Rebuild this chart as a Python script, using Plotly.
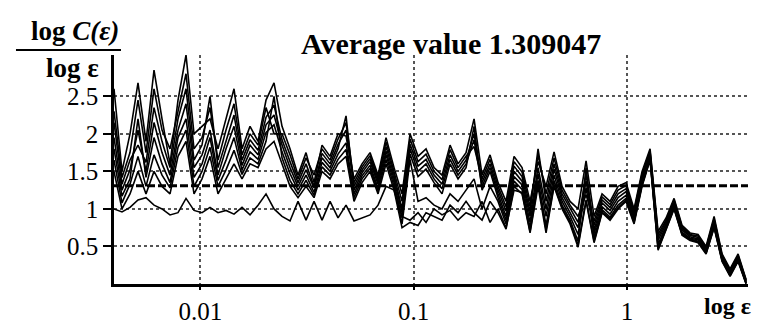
import numpy as np
import plotly.graph_objects as go

# epsilon sampling grid (geometric, as in the box-counting analysis)
EPS = np.logspace(-2.4045, 0.558, 80)

AVERAGE = 1.309047

S1 = [2.6, 1.5, 2.0, 2.68, 1.9, 2.85, 2.2, 1.6, 2.45, 3.05,
      2.0, 2.1, 2.2, 1.8, 2.2, 2.6, 1.8, 2.1, 1.9, 2.45,
      2.68, 2.1, 1.8, 1.45, 1.75, 1.35, 1.85, 1.7, 2.0, 1.97,
      1.4, 1.6, 1.75, 1.45, 1.95, 1.55, 1.2, 2.0, 1.7, 1.8,
      1.55, 1.45, 1.85, 1.6, 1.75, 2.2, 1.45, 1.72, 1.35, 1.1,
      1.7, 1.55, 1.1, 1.63, 1.3, 1.76, 1.3, 1.1, 1.0, 1.64,
      0.9, 1.2, 1.1, 1.3, 1.35, 1.0, 1.5, 1.8, 0.7, 0.88,
      1.14, 0.78, 0.68, 0.66, 0.5, 0.9, 0.4, 0.2, 0.4, 0.06]
S2 = [2.3, 1.42, 1.75, 2.45, 1.75, 2.6, 2.05, 1.8, 2.3, 2.8,
      1.8, 1.95, 2.35, 1.65, 2.05, 2.4, 1.72, 2.0, 1.85, 2.35,
      2.0, 2.0, 1.72, 1.4, 1.68, 1.45, 1.8, 1.65, 1.93, 2.15,
      1.35, 1.56, 1.71, 1.41, 1.89, 1.5, 1.1, 1.93, 1.63, 1.73,
      1.5, 1.39, 1.79, 1.55, 1.7, 1.83, 1.4, 1.66, 1.3, 1.03,
      1.63, 1.49, 1.03, 1.72, 1.2, 1.68, 1.25, 1.05, 0.9, 1.19,
      0.84, 1.16, 1.06, 1.25, 1.31, 0.97, 1.47, 1.77, 0.66, 0.85,
      1.12, 0.76, 0.66, 0.64, 0.48, 0.87, 0.38, 0.18, 0.38, 0.05]
S3 = [2.15, 1.33, 1.65, 1.85, 1.62, 2.35, 1.9, 1.55, 2.2, 2.6,
      1.65, 1.85, 2.5, 1.55, 1.9, 2.25, 1.65, 1.92, 1.78, 2.22,
      2.38, 1.92, 1.63, 1.35, 1.6, 1.3, 1.74, 1.6, 1.86, 2.05,
      1.3, 1.52, 1.67, 1.37, 1.83, 1.45, 1.0, 1.86, 1.57, 1.66,
      1.45, 1.33, 1.72, 1.5, 1.65, 2.0, 1.35, 1.6, 1.25, 0.97,
      1.57, 1.43, 0.96, 1.8, 1.1, 1.6, 1.2, 1.0, 0.82, 1.46,
      0.78, 1.12, 1.02, 1.2, 1.27, 0.93, 1.43, 1.75, 0.62, 0.83,
      1.09, 0.74, 0.65, 0.62, 0.47, 0.85, 0.37, 0.17, 0.37, 0.04]
S4 = [1.95, 1.25, 1.52, 2.05, 1.5, 2.15, 1.75, 1.45, 2.05, 2.4,
      1.55, 1.72, 2.05, 1.45, 1.8, 2.1, 1.58, 1.85, 1.72, 2.12,
      2.25, 1.85, 1.55, 1.3, 1.52, 1.28, 1.68, 1.55, 1.8, 2.24,
      1.25, 1.48, 1.63, 1.33, 1.77, 1.4, 0.95, 1.8, 1.5, 1.6,
      1.4, 1.27, 1.66, 1.45, 1.6, 1.92, 1.3, 1.55, 1.2, 0.9,
      1.5, 1.37, 0.9, 1.55, 1.0, 1.53, 1.15, 0.95, 0.75, 1.37,
      0.72, 1.08, 0.98, 1.15, 1.23, 0.9, 1.4, 1.72, 0.58, 0.8,
      1.07, 0.72, 0.63, 0.6, 0.45, 0.82, 0.35, 0.15, 0.35, 0.03]
S5 = [1.8, 1.17, 1.4, 2.2, 1.42, 1.95, 1.6, 1.35, 1.95, 2.2,
      1.42, 1.6, 1.95, 1.38, 1.65, 1.95, 1.52, 1.76, 1.66, 2.02,
      2.12, 1.76, 1.47, 1.25, 1.45, 1.22, 1.62, 1.5, 1.73, 1.88,
      1.2, 1.44, 1.58, 1.28, 1.72, 1.35, 0.88, 1.73, 1.43, 1.53,
      1.35, 1.2, 1.6, 1.4, 1.55, 2.1, 1.25, 1.5, 1.15, 0.85,
      1.43, 1.32, 0.82, 1.47, 0.9, 1.45, 1.1, 0.9, 0.66, 1.28,
      0.67, 1.03, 0.93, 1.1, 1.18, 0.87, 1.37, 1.7, 0.53, 0.77,
      1.05, 0.69, 0.61, 0.59, 0.43, 0.8, 0.33, 0.13, 0.33, 0.02]
S6 = [1.65, 1.08, 1.33, 1.7, 1.3, 1.72, 1.45, 1.28, 1.82, 2.05,
      1.3, 1.5, 1.82, 1.3, 1.52, 1.78, 1.46, 1.68, 1.6, 1.9,
      2.5, 1.68, 1.38, 1.2, 1.38, 1.18, 1.56, 1.45, 1.66, 1.79,
      1.15, 1.4, 1.54, 1.24, 1.66, 1.3, 0.8, 1.66, 1.1, 1.15,
      1.05, 1.0, 1.2, 1.1, 1.25, 1.4, 1.0, 1.3, 1.1, 0.8,
      1.37, 1.26, 0.75, 1.38, 0.78, 1.38, 1.05, 0.85, 0.57, 1.55,
      0.61, 0.99, 0.89, 1.05, 1.14, 0.83, 1.33, 1.67, 0.49, 0.75,
      1.02, 0.67, 0.6, 0.57, 0.42, 0.77, 0.32, 0.12, 0.32, 0.01]
S7 = [1.5, 1.0, 1.2, 1.5, 1.2, 1.5, 1.3, 1.2, 1.7, 1.9,
      1.2, 1.4, 1.7, 1.2, 1.4, 1.6, 1.4, 1.6, 1.55, 1.8,
      1.9, 1.6, 1.3, 1.15, 1.3, 1.15, 1.5, 1.4, 1.6, 1.7,
      1.1, 1.35, 1.5, 1.2, 1.6, 1.25, 0.75, 0.82, 0.78, 0.95,
      0.9, 0.85, 1.05, 0.95, 1.1, 0.95, 0.85, 1.1, 0.95, 0.73,
      1.3, 1.2, 0.68, 1.3, 0.68, 1.3, 1.0, 0.8, 0.49, 1.1,
      0.55, 0.95, 0.85, 1.0, 1.1, 0.8, 1.3, 1.65, 0.45, 0.72,
      1.0, 0.65, 0.58, 0.55, 0.4, 0.75, 0.3, 0.1, 0.3, 0.0]
S8 = [1.0, 0.96, 1.02, 1.12, 1.15, 1.05, 1.0, 0.92, 0.95, 1.14,
      0.98, 0.95, 1.02, 0.95, 0.98, 0.93, 1.02, 0.92, 1.05, 1.2,
      1.0, 0.9, 0.84, 1.1, 0.85, 1.1, 0.85, 1.1, 0.88, 1.05,
      0.84, 0.88, 0.92, 1.05, 1.3, 1.25, 0.9, 0.85, 0.95, 0.82,
      1.0, 0.92, 0.98, 0.85, 0.95, 0.9, 1.1, 0.82, 1.0, 0.75,
      1.25, 1.22, 0.7, 1.35, 0.72, 1.32, 1.02, 0.82, 0.52, 1.12,
      0.57, 0.96, 0.87, 1.02, 1.12, 0.82, 1.32, 1.66, 0.47, 0.73,
      1.01, 0.66, 0.59, 0.56, 0.41, 0.76, 0.31, 0.11, 0.31, 0.01]

SERIES = [S1, S2, S3, S4, S5, S6, S7, S8]

Y_TICKS = [0.5, 1, 1.5, 2, 2.5]
Y_TICK_TEXT = ["0.5", "1", "1.5", "2", "2.5"]
X_TICKS = [0.01, 0.1, 1]
X_TICK_TEXT = ["0.01", "0.1", "1"]

FONT = "Liberation Serif"

fig = go.Figure()
for s in SERIES:
    fig.add_trace(go.Scatter(x=EPS, y=s, mode="lines",
                             line=dict(color="black", width=1.6),
                             showlegend=False, hoverinfo="skip"))

fig.add_shape(type="line", xref="paper", yref="y", x0=0, x1=1,
              y0=AVERAGE, y1=AVERAGE,
              line=dict(color="black", width=3, dash="8px,3px"))

# fraction bar of the y label
fig.add_shape(type="line", xref="paper", yref="paper",
              x0=-0.1546, x1=0.011, y0=1.022, y1=1.022,
              line=dict(color="black", width=2))

fig.add_annotation(text="<b>log <i>C(ε)</i></b>", xref="paper", yref="paper",
                   x=-0.061, y=1.105, xanchor="center", yanchor="middle",
                   showarrow=False, font=dict(family=FONT, size=27, color="black"))
fig.add_annotation(text="<b>log ε</b>", xref="paper", yref="paper",
                   x=-0.0647, y=0.945, xanchor="center", yanchor="middle",
                   showarrow=False, font=dict(family=FONT, size=27, color="black"))
fig.add_annotation(text=f"<b>Average value {AVERAGE:.6f}</b>", xref="paper", yref="paper",
                   x=0.5308, y=1.05, xanchor="center", yanchor="middle",
                   showarrow=False, font=dict(family=FONT, size=30, color="black"))
fig.add_annotation(text="<b>log ε</b>", xref="paper", yref="paper",
                   x=1.008, y=-0.095, xanchor="right", yanchor="middle",
                   showarrow=False, font=dict(family=FONT, size=24, color="black"))

fig.update_xaxes(type="log", range=[-2.4045, 0.567],
                 tickvals=X_TICKS, ticktext=X_TICK_TEXT,
                 showline=True, linecolor="black", linewidth=2.5,
                 ticks="outside", ticklen=3, tickwidth=2, tickcolor="black",
                 tickfont=dict(family=FONT, size=25, color="black"),
                 showgrid=True, gridcolor="#555555", gridwidth=1.5, griddash="dot",
                 zeroline=False)
fig.update_yaxes(range=[0, 3.05], tickvals=Y_TICKS, ticktext=Y_TICK_TEXT,
                 showline=True, linecolor="black", linewidth=2.5,
                 ticks="outside", ticklen=8, tickwidth=1.5, tickcolor="black",
                 tickfont=dict(family=FONT, size=25, color="black"),
                 showgrid=True, gridcolor="#555555", gridwidth=1.5, griddash="dot",
                 zeroline=False)

fig.update_layout(width=760, height=329,
                  margin=dict(l=106, r=20, t=47, b=39),
                  paper_bgcolor="white", plot_bgcolor="white",
                  font=dict(family=FONT, color="black"))

fig.write_html("out.html")
